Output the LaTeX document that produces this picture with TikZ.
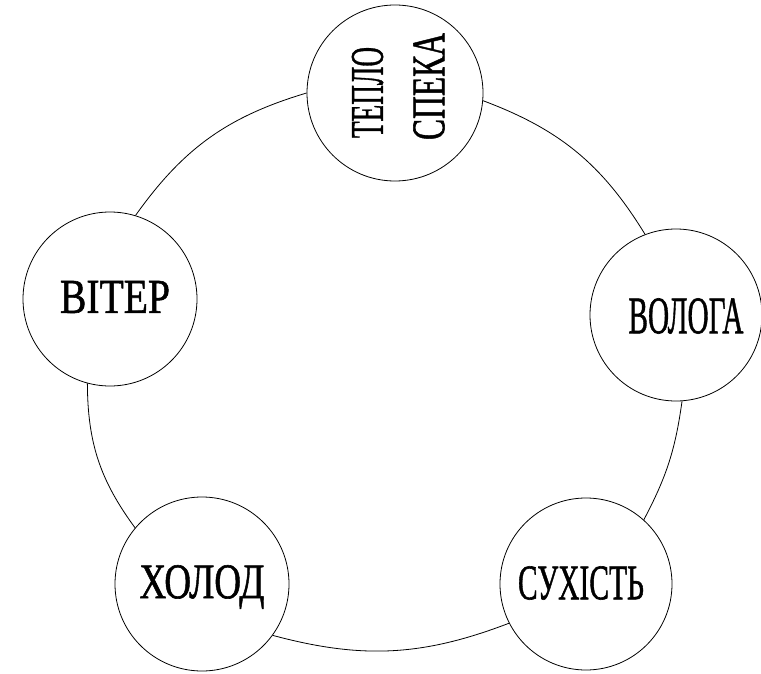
\documentclass[tikz,border=0pt]{standalone}
\usepackage{fontspec}
\setmainfont[FakeBold=1.2]{Liberation Serif}
\usepackage{graphicx}
\newcommand\fitlbl[3]{\resizebox{#1}{#2}{#3}}
\begin{document}
\begin{tikzpicture}[x=1pt,y=-1pt,
  bub/.style={circle,draw,line width=0.8pt,inner sep=0pt,minimum size=#1},
  link/.style={line width=0.8pt},
  lbl/.style={inner sep=0pt}]
\useasboundingbox (0,0) rectangle (761,674);
% circles
\node[bub=176pt] (teplo) at (395,93) {};
\node[bub=174pt] (viter) at (110,299) {};
\node[bub=172pt] (vologa) at (676,315) {};
\node[bub=172pt] (suhist) at (586,584) {};
\node[bub=174pt] (holod) at (202,584) {};
% labels
\node[lbl,rotate=90] (t1) at (367.5,92.5) {\fitlbl{91pt}{31pt}{ТЕПЛО}};
\node[lbl,rotate=90] (t2) at (429,86.5) {\fitlbl{107pt}{31pt}{СПЕКА}};
\node[lbl] (viterlbl) at (115,297) {\fitlbl{110pt}{32pt}{ВІТЕР}};
\node[lbl] (vologalbl) at (686,316) {\fitlbl{115pt}{35pt}{ВОЛОГА}};
\node[lbl] (suhistlbl) at (581,583) {\fitlbl{126pt}{33pt}{СУХІСТЬ}};
\node[lbl] (holodlbl) at (202,587) {\fitlbl{125pt}{33pt}{ХОЛОД}};
% connectors
\draw[link] (teplo.180) to[bend right=19] (viter.73);
\draw[link] (teplo.-5) to[bend left=19] (vologa.111);
\draw[link] (vologa.274) to[bend left=10] (suhist.48);
\draw[link] (suhist.207) to[bend left=18] (holod.-36);
\draw[link] (holod.140) to[bend left=18] (viter.255);
\end{tikzpicture}
\end{document}
